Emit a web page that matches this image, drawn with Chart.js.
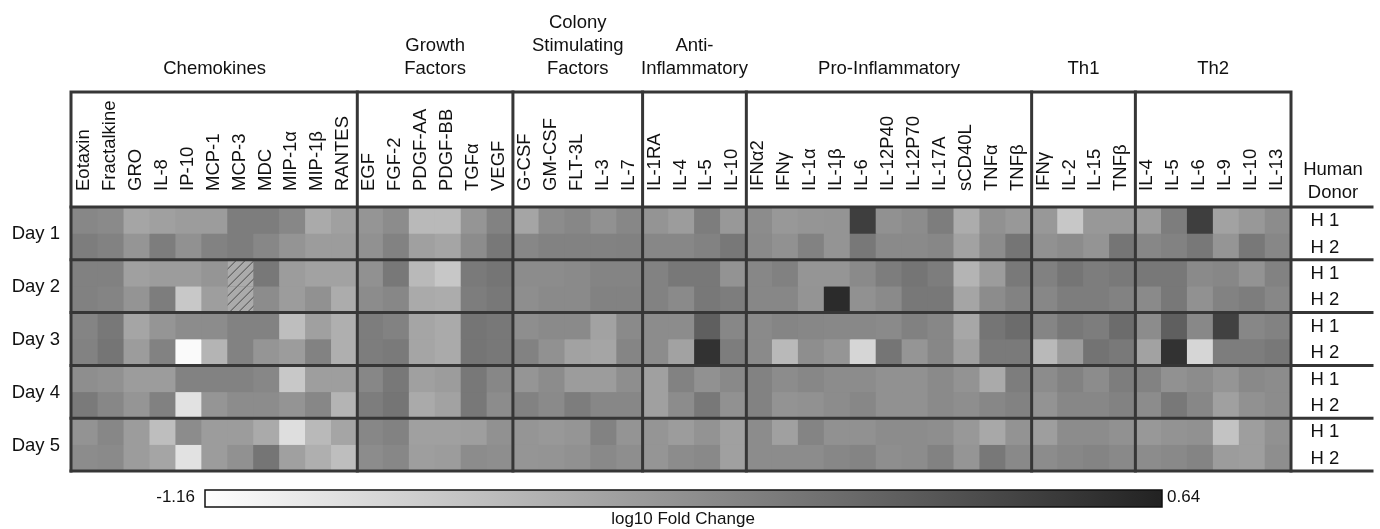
<!DOCTYPE html>
<html>
<head>
<meta charset="utf-8">
<script src="https://cdn.jsdelivr.net/npm/chart.js@4.4.1/dist/chart.umd.min.js"></script>
<style>
  html, body { margin: 0; padding: 0; background: #fff; }
  canvas { display: block; }
</style>
</head>
<body>
<canvas id="heat" width="1380" height="529"></canvas>
<script>
// cytokine columns, left to right
var cytokines = ['Eotaxin', 'Fractalkine', 'GRO', 'IL-8', 'IP-10', 'MCP-1', 'MCP-3', 'MDC', 'MIP-1\u03b1', 'MIP-1\u03b2', 'RANTES',
  'EGF', 'FGF-2', 'PDGF-AA', 'PDGF-BB', 'TGF\u03b1', 'VEGF',
  'G-CSF', 'GM-CSF', 'FLT-3L', 'IL-3', 'IL-7',
  'IL-1RA', 'IL-4', 'IL-5', 'IL-10',
  'IFN\u03b12', 'IFN\u03b3', 'IL-1\u03b1', 'IL-1\u03b2', 'IL-6', 'IL-12P40', 'IL-12P70', 'IL-17A', 'sCD40L', 'TNF\u03b1', 'TNF\u03b2',
  'IFN\u03b3', 'IL-2', 'IL-15', 'TNF\u03b2',
  'IL-4', 'IL-5', 'IL-6', 'IL-9', 'IL-10', 'IL-13'];
var groupNames = [['Chemokines'], ['Growth', 'Factors'], ['Colony', 'Stimulating', 'Factors'], ['Anti-', 'Inflammatory'],
  ['Pro-Inflammatory'], ['Th1'], ['Th2']];
var groupSizes = [11, 6, 5, 4, 11, 4, 6];
var days = ['Day 1', 'Day 2', 'Day 3', 'Day 4', 'Day 5'];
var donors = ['H 1', 'H 2'];
var colorMin = -1.16, colorMax = 0.64;

// log10 fold change, one array per day / donor (null = no data, hatched)
var day1H1 = [-0.18, -0.21, -0.43, -0.39, -0.35, -0.35, -0.10, -0.10, -0.18, -0.47, -0.39, -0.30, -0.22, -0.59, -0.59, -0.30, -0.14,
  -0.43, -0.22, -0.18, -0.26, -0.18, -0.29, -0.35, -0.10, -0.32, -0.22, -0.32, -0.30, -0.29, 0.41, -0.26, -0.22, -0.10, -0.48, -0.26, -0.32,
  -0.32, -0.70, -0.32, -0.32, -0.35, -0.10, 0.41, -0.40, -0.32, -0.22];
var day1H2 = [-0.10, -0.14, -0.30, -0.10, -0.26, -0.14, -0.10, -0.18, -0.29, -0.35, -0.35, -0.26, -0.14, -0.39, -0.43, -0.22, -0.06,
  -0.18, -0.14, -0.14, -0.14, -0.13, -0.18, -0.18, -0.14, -0.06, -0.21, -0.26, -0.14, -0.29, -0.06, -0.21, -0.21, -0.18, -0.40, -0.22, -0.04,
  -0.26, -0.22, -0.29, -0.04, -0.18, -0.14, -0.06, -0.30, -0.06, -0.18];
var day2H1 = [-0.13, -0.13, -0.39, -0.35, -0.35, -0.30, null, -0.06, -0.35, -0.40, -0.40, -0.26, -0.06, -0.59, -0.70, -0.08, -0.04,
  -0.22, -0.22, -0.21, -0.16, -0.16, -0.14, -0.06, -0.06, -0.28, -0.18, -0.13, -0.30, -0.30, -0.21, -0.10, -0.04, -0.10, -0.55, -0.35, -0.07,
  -0.13, -0.04, -0.10, -0.07, -0.06, -0.06, -0.21, -0.18, -0.28, -0.14];
var day2H2 = [-0.13, -0.16, -0.29, -0.10, -0.71, -0.37, null, -0.22, -0.35, -0.26, -0.48, -0.22, -0.18, -0.47, -0.48, -0.10, -0.06,
  -0.24, -0.21, -0.21, -0.14, -0.14, -0.14, -0.21, -0.06, -0.10, -0.18, -0.18, -0.29, 0.57, -0.26, -0.21, -0.06, -0.06, -0.43, -0.22, -0.14,
  -0.18, -0.10, -0.10, -0.14, -0.21, -0.06, -0.26, -0.14, -0.10, -0.18];
var day3H1 = [-0.16, -0.06, -0.43, -0.30, -0.22, -0.22, -0.14, -0.14, -0.63, -0.39, -0.51, -0.10, -0.14, -0.43, -0.47, -0.04, -0.06,
  -0.24, -0.21, -0.21, -0.40, -0.21, -0.22, -0.22, 0.14, -0.18, -0.21, -0.17, -0.18, -0.19, -0.19, -0.21, -0.13, -0.18, -0.44, -0.04, 0.04,
  -0.17, -0.06, -0.10, 0.04, -0.22, 0.14, -0.19, 0.39, -0.18, -0.14];
var day3H2 = [-0.14, -0.04, -0.35, -0.14, -1.12, -0.55, -0.14, -0.30, -0.35, -0.14, -0.51, -0.10, -0.08, -0.43, -0.47, -0.04, -0.06,
  -0.14, -0.26, -0.40, -0.43, -0.17, -0.22, -0.40, 0.51, -0.10, -0.21, -0.59, -0.24, -0.30, -0.83, -0.04, -0.30, -0.18, -0.39, -0.08, -0.08,
  -0.59, -0.35, -0.02, -0.07, -0.40, 0.51, -0.83, -0.10, -0.10, -0.06];
var day4H1 = [-0.24, -0.26, -0.35, -0.35, -0.14, -0.14, -0.14, -0.18, -0.71, -0.37, -0.37, -0.18, -0.06, -0.39, -0.35, -0.06, -0.18,
  -0.30, -0.22, -0.35, -0.35, -0.24, -0.39, -0.14, -0.26, -0.20, -0.14, -0.22, -0.18, -0.22, -0.22, -0.26, -0.26, -0.21, -0.28, -0.47, -0.10,
  -0.22, -0.14, -0.22, -0.10, -0.14, -0.26, -0.22, -0.30, -0.20, -0.22];
var day4H2 = [-0.08, -0.18, -0.30, -0.13, -0.92, -0.30, -0.22, -0.22, -0.29, -0.18, -0.55, -0.10, -0.04, -0.47, -0.40, -0.06, -0.22,
  -0.14, -0.21, -0.10, -0.18, -0.18, -0.39, -0.22, -0.06, -0.26, -0.14, -0.28, -0.26, -0.22, -0.18, -0.26, -0.26, -0.21, -0.24, -0.18, -0.14,
  -0.28, -0.18, -0.18, -0.14, -0.22, -0.06, -0.18, -0.39, -0.26, -0.22];
var day5H1 = [-0.28, -0.18, -0.35, -0.63, -0.22, -0.35, -0.35, -0.47, -0.89, -0.59, -0.43, -0.18, -0.14, -0.39, -0.39, -0.37, -0.26,
  -0.30, -0.32, -0.30, -0.14, -0.29, -0.30, -0.35, -0.28, -0.39, -0.22, -0.39, -0.16, -0.26, -0.26, -0.22, -0.22, -0.24, -0.32, -0.45, -0.28,
  -0.37, -0.22, -0.22, -0.26, -0.32, -0.28, -0.26, -0.67, -0.37, -0.26];
var day5H2 = [-0.22, -0.21, -0.35, -0.43, -0.92, -0.35, -0.26, -0.04, -0.39, -0.51, -0.63, -0.22, -0.18, -0.37, -0.35, -0.22, -0.24,
  -0.30, -0.29, -0.26, -0.20, -0.24, -0.30, -0.22, -0.20, -0.39, -0.22, -0.22, -0.22, -0.18, -0.16, -0.24, -0.22, -0.14, -0.30, -0.06, -0.20,
  -0.22, -0.18, -0.16, -0.20, -0.22, -0.20, -0.16, -0.35, -0.37, -0.24];

var rows = [day1H1, day1H2, day2H1, day2H2, day3H1, day3H2, day4H1, day4H2, day5H1, day5H2];

var FONT = '"Liberation Sans", Arial, sans-serif';
var LINE = '#363636';
var INK = '#111';

function greyFor(v) {
  var t = (v - colorMin) / (colorMax - colorMin);
  t = Math.max(0, Math.min(1, t));
  var g = Math.round(255 - t * 221);
  return 'rgb(' + g + ',' + g + ',' + g + ')';
}

var datasets = rows.map(function (vals, r) {
  return {
    data: vals.map(function (v) { return v === null ? null : [r, r + 1]; }),
    backgroundColor: vals.map(function (v) { return v === null ? 'rgba(0,0,0,0)' : greyFor(v); }),
    borderWidth: 0,
    grouped: false,
    barPercentage: 1,
    categoryPercentage: 1
  };
});

var decorations = {
  id: 'decorations',
  beforeDatasetsDraw: function (chart) {
    var a = chart.chartArea, ctx = chart.ctx;
    ctx.save();
    ctx.fillStyle = '#8c8c8c';
    ctx.fillRect(a.left, a.top, a.right - a.left, a.bottom - a.top);
    ctx.restore();
  },
  afterDraw: function (chart) {
    var ctx = chart.ctx, a = chart.chartArea;
    var xs = chart.scales.x, ys = chart.scales.y;
    var colW = (a.right - a.left) / cytokines.length;
    var boxTop = 92, rightEdge = 1372;
    ctx.save();

    // hatched cells (no data)
    rows.forEach(function (vals, r) {
      vals.forEach(function (v, i) {
        if (v !== null) return;
        var x0 = xs.getPixelForValue(i) - colW / 2;
        var y0 = ys.getPixelForValue(r), y1 = ys.getPixelForValue(r + 1);
        ctx.save();
        ctx.beginPath();
        ctx.rect(x0, y0, colW, y1 - y0);
        ctx.clip();
        ctx.fillStyle = '#ababab';
        ctx.fillRect(x0, y0, colW, y1 - y0);
        ctx.strokeStyle = '#4a4a4a';
        ctx.lineWidth = 1;
        var base = a.bottom;
        for (var k = -400; k < 400; k += 9) {
          ctx.beginPath();
          ctx.moveTo(x0 + k, base);
          ctx.lineTo(x0 + k + 400, base - 400);
          ctx.stroke();
        }
        ctx.restore();
      });
    });

    ctx.strokeStyle = LINE;
    ctx.lineWidth = 3;
    ctx.lineCap = 'square';

    // header box and outer frame
    ctx.beginPath();
    ctx.moveTo(a.left - 1, a.bottom);
    ctx.lineTo(a.left - 1, boxTop);
    ctx.lineTo(a.right, boxTop);
    ctx.lineTo(a.right, a.bottom);
    ctx.stroke();

    // horizontal separators: heatmap top, day boundaries, bottom
    for (var d = 0; d <= days.length; d++) {
      var y = ys.getPixelForValue(d * 2);
      ctx.beginPath();
      ctx.moveTo(a.left - 1, y);
      ctx.lineTo(rightEdge, y);
      ctx.stroke();
    }

    // group separators and group titles
    var start = 0;
    ctx.font = '18.5px ' + FONT;
    ctx.fillStyle = INK;
    ctx.textAlign = 'center';
    ctx.textBaseline = 'middle';
    groupSizes.forEach(function (n, g) {
      var gx0 = xs.getPixelForValue(start) - colW / 2;
      var gx1 = xs.getPixelForValue(start + n - 1) + colW / 2;
      if (g > 0) {
        ctx.beginPath();
        ctx.moveTo(gx0, boxTop);
        ctx.lineTo(gx0, a.bottom);
        ctx.stroke();
      }
      var lines = groupNames[g];
      lines.forEach(function (t, li) {
        ctx.fillText(t, (gx0 + gx1) / 2, 68.5 - (lines.length - 1 - li) * 23);
      });
      start += n;
    });

    // rotated column labels
    ctx.textAlign = 'left';
    ctx.textBaseline = 'alphabetic';
    cytokines.forEach(function (name, i) {
      ctx.save();
      ctx.translate(xs.getPixelForValue(i) + 4, 191);
      ctx.rotate(-Math.PI / 2);
      ctx.fillText(name, 0, 0);
      ctx.restore();
    });

    // day labels and donors
    ctx.textBaseline = 'middle';
    ctx.textAlign = 'right';
    days.forEach(function (t, d) {
      var yc = (ys.getPixelForValue(d * 2) + ys.getPixelForValue(d * 2 + 2)) / 2;
      ctx.fillText(t, 60, yc + 1);
    });
    ctx.textAlign = 'center';
    rows.forEach(function (vals, r) {
      var yc = (ys.getPixelForValue(r) + ys.getPixelForValue(r + 1)) / 2;
      ctx.fillText(donors[r % 2], 1325, yc + 1);
    });
    ctx.fillText('Human', 1333, 170);
    ctx.fillText('Donor', 1333, 193);

    // colour bar
    var cbX0 = 205, cbX1 = 1162, cbY0 = 490, cbY1 = 507;
    var grad = ctx.createLinearGradient(cbX0, 0, cbX1, 0);
    grad.addColorStop(0, greyFor(colorMin));
    grad.addColorStop(1, greyFor(colorMax));
    ctx.fillStyle = grad;
    ctx.fillRect(cbX0, cbY0, cbX1 - cbX0, cbY1 - cbY0);
    ctx.lineWidth = 1.5;
    ctx.strokeStyle = '#111';
    ctx.strokeRect(cbX0, cbY0, cbX1 - cbX0, cbY1 - cbY0);
    ctx.fillStyle = INK;
    ctx.font = '17px ' + FONT;
    ctx.textAlign = 'right';
    ctx.fillText(String(colorMin), cbX0 - 10, 497);
    ctx.textAlign = 'left';
    ctx.fillText(String(colorMax), cbX1 + 5, 497);
    ctx.textAlign = 'center';
    ctx.fillText('log10 Fold Change', 683, 519);
    ctx.restore();
  }
};

new Chart(document.getElementById('heat'), {
  type: 'bar',
  data: { labels: cytokines, datasets: datasets },
  options: {
    responsive: false,
    animation: false,
    devicePixelRatio: 1,
    layout: { padding: { left: 72, right: 89, top: 207, bottom: 58 } },
    plugins: { legend: { display: false }, tooltip: { enabled: false } },
    scales: {
      x: { type: 'category', display: false, offset: true, grid: { display: false } },
      y: { type: 'linear', display: false, min: 0, max: 10, reverse: true }
    }
  },
  plugins: [decorations]
});
</script>
</body>
</html>
